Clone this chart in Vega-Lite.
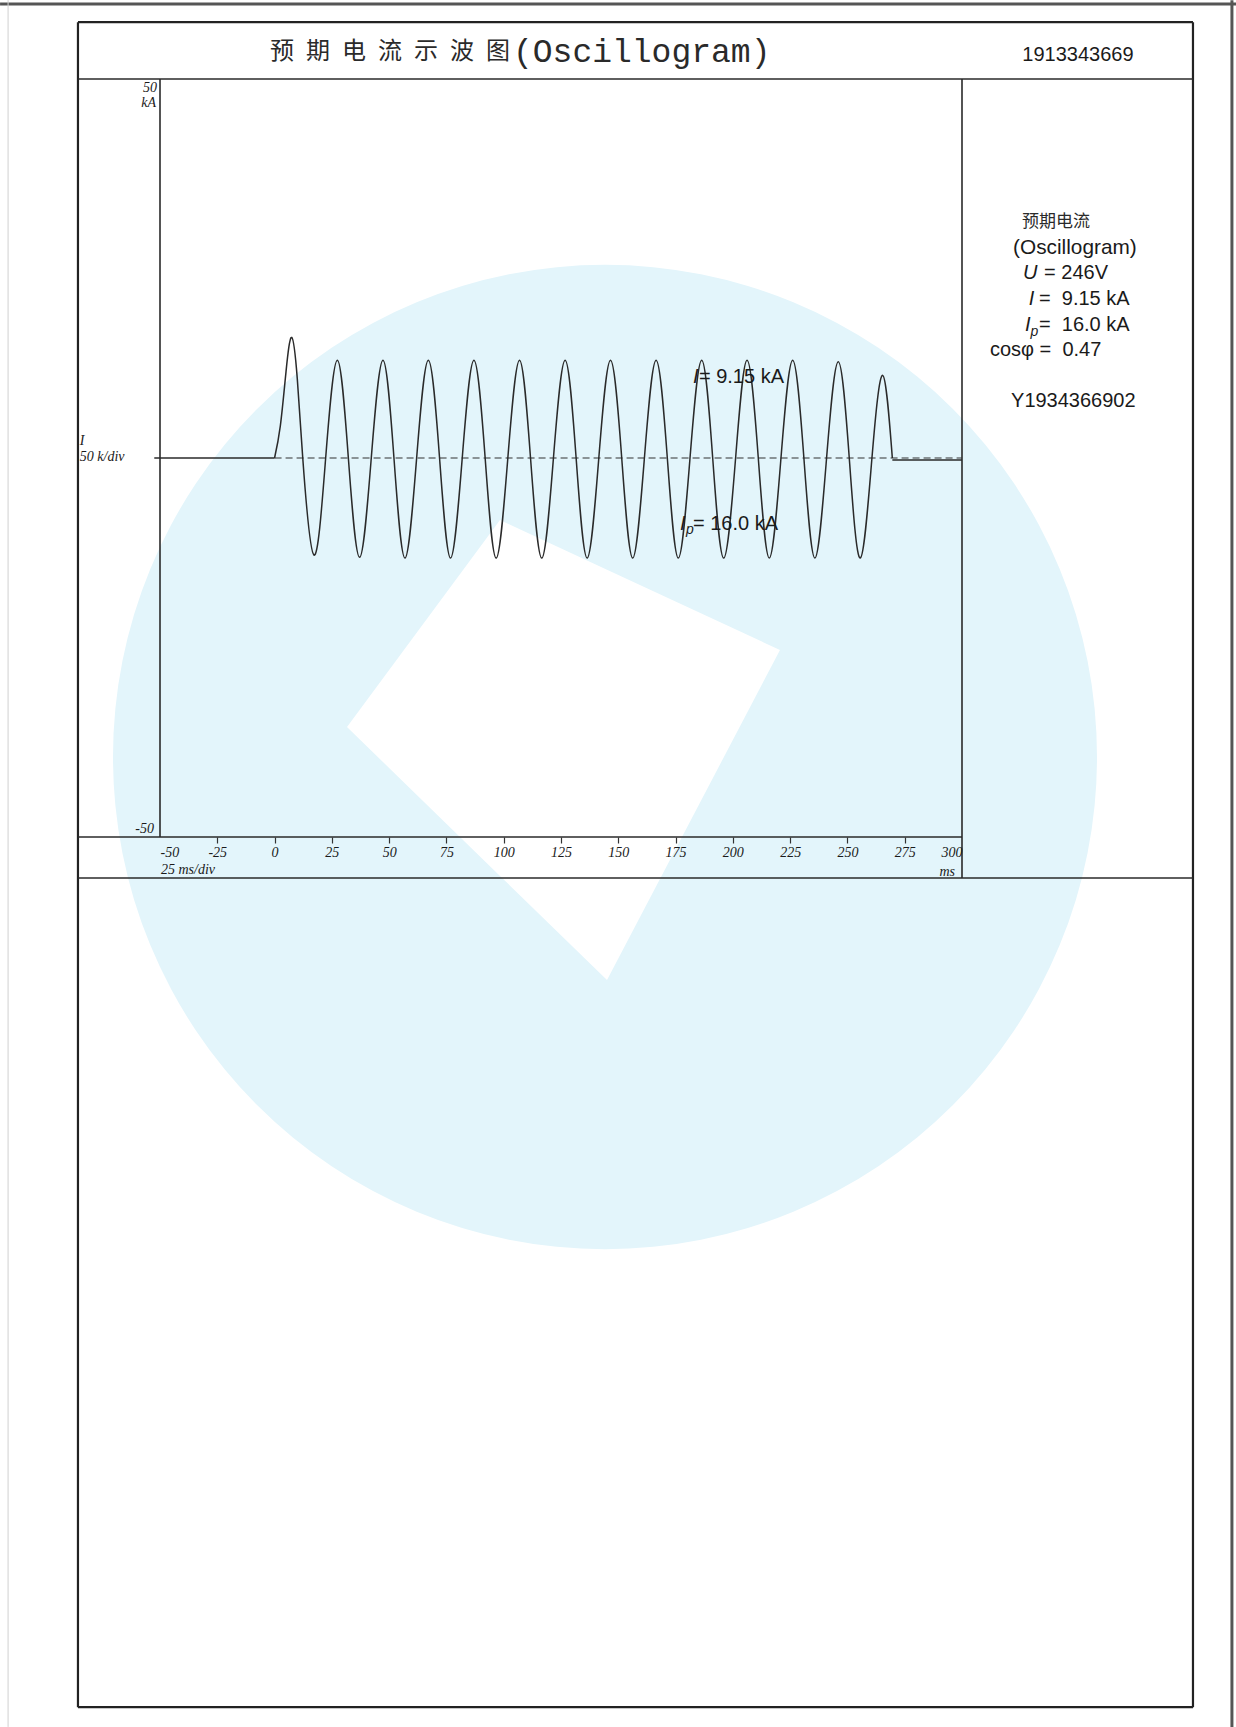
{
  "$schema": "https://vega.github.io/schema/vega-lite/v6.json",
  "width": 802,
  "height": 758,
  "autosize": {"type": "none"},
  "padding": {"left": 160, "top": 79, "right": 274, "bottom": 890},
  "background": "white",
  "config": {"view": {"stroke": null}},
  "encoding": {
    "x": {
      "field": "t", "type": "quantitative",
      "scale": {"domain": [-50, 300], "nice": false, "zero": false},
      "axis": {
        "values": [-50, -25, 0, 25, 50, 75, 100, 125, 150, 175, 200, 225, 250, 275, 300],
        "labelExpr": "datum.value + ''",
        "labelFlush": true, "labelOverlap": false, "zindex": 2,
        "domain": false, "grid": false, "ticks": true, "tickSize": 6, "tickWidth": 1.2,
        "tickColor": {"condition": {"test": "datum.value == -50 || datum.value == 300", "value": "transparent"}, "value": "#333"},
        "labelFont": "Liberation Serif", "labelFontStyle": "italic", "labelFontSize": 14,
        "labelColor": "#1a1a1a", "labelPadding": 2, "title": null
      }
    },
    "y": {
      "field": "i", "type": "quantitative",
      "scale": {"domain": [-50, 50], "nice": false, "zero": false},
      "axis": null
    }
  },
  "layer": [
    {
      "data": {"values": [{"t": 144.2, "i": -39.45}]},
      "mark": {"type": "point", "shape": "circle", "filled": true, "size": 968256, "opacity": 1, "color": "#e3f5fb", "strokeWidth": 0}
    },
    {
      "data": {"values": [
        {"t": 31.61, "i": -35.49, "i2": -35.49},
        {"t": 98.38, "i": -8.18, "i2": -55.13},
        {"t": 145.08, "i": -14.74, "i2": -68.87},
        {"t": 220.57, "i": -25.33, "i2": -25.33}
      ]},
      "mark": {"type": "area", "color": "#ffffff", "opacity": 1, "interpolate": "linear"},
      "encoding": {"y2": {"field": "i2"}}
    },
    {
      "data": {"values": [
        {"t": -119.8, "t2": 419.6, "i": 59.9, "i2": 59.9},
        {"t": 417.8, "t2": 417.8, "i": 60.4, "i2": -167.4}
      ]},
      "mark": {"type": "rule", "color": "#555", "strokeWidth": 3},
      "encoding": {"x2": {"field": "t2"}, "y2": {"field": "i2"}}
    },
    {
      "data": {"values": [
        {"t": -116.3, "t2": -116.3, "i": 60.4, "i2": -167.4}
      ]},
      "mark": {"type": "rule", "color": "#d0d0d0", "strokeWidth": 1},
      "encoding": {"x2": {"field": "t2"}, "y2": {"field": "i2"}}
    },
    {
      "data": {"values": [
        {"t": -85.8, "t2": -85.8, "i": 57.5, "i2": -164.8},
        {"t": 400.8, "t2": 400.8, "i": 57.5, "i2": -164.8},
        {"t": -85.8, "t2": 400.8, "i": 57.5, "i2": 57.5},
        {"t": -85.8, "t2": 400.8, "i": -164.8, "i2": -164.8}
      ]},
      "mark": {"type": "rule", "color": "#222", "strokeWidth": 2.2},
      "encoding": {"x2": {"field": "t2"}, "y2": {"field": "i2"}}
    },
    {
      "data": {"values": [
        {"t": -85.8, "t2": 400.8, "i": 50, "i2": 50},
        {"t": 300, "t2": 300, "i": 50, "i2": -55.4},
        {"t": -85.8, "t2": 400.8, "i": -55.4, "i2": -55.4},
        {"t": -85.8, "t2": 300, "i": -50, "i2": -50},
        {"t": -50, "t2": -50, "i": 50, "i2": -50}
      ]},
      "mark": {"type": "rule", "color": "#2a2a2a", "strokeWidth": 1.6},
      "encoding": {"x2": {"field": "t2"}, "y2": {"field": "i2"}}
    },
    {
      "data": {"values": [{"t": 0, "t2": 300, "i": 0, "i2": 0}]},
      "mark": {"type": "rule", "color": "#333", "strokeWidth": 1.1, "strokeDash": [7, 4]},
      "encoding": {"x2": {"field": "t2"}, "y2": {"field": "i2"}}
    },
    {
      "data": {"values": [
        {"seg": "pre", "t": -52.5, "i": 0},
        {"seg": "pre", "t": 0, "i": 0},
        {"seg": "post", "t": 269.6, "i": -0.25},
        {"seg": "post", "t": 300, "i": -0.25}
      ]},
      "mark": {"type": "line", "color": "#2a2a2a", "strokeWidth": 1.5},
      "encoding": {"detail": {"field": "seg"}}
    },
    {
      "data": {"values": [
        {"t": 0, "i": 0}, {"t": 2.5, "i": 4.2}, {"t": 5.0, "i": 11.4}, {"t": 7.5, "i": 15.9},
        {"t": 9.9, "i": 10.5}, {"t": 12.3, "i": 0}, {"t": 17.2, "i": -12.8}, {"t": 22.3, "i": 0},
        {"t": 27.4, "i": 12.9}, {"t": 32.2, "i": 0}, {"t": 37.1, "i": -13.1}, {"t": 42.2, "i": 0},
        {"t": 47.3, "i": 12.9}, {"t": 52.1, "i": 0}, {"t": 56.9, "i": -13.2}, {"t": 62.0, "i": 0},
        {"t": 67.1, "i": 12.9}, {"t": 72.0, "i": 0}, {"t": 76.8, "i": -13.2}, {"t": 81.9, "i": 0},
        {"t": 87.0, "i": 12.9}, {"t": 91.9, "i": 0}, {"t": 96.7, "i": -13.2}, {"t": 101.8, "i": 0},
        {"t": 106.9, "i": 12.9}, {"t": 111.7, "i": 0}, {"t": 116.6, "i": -13.2}, {"t": 121.7, "i": 0},
        {"t": 126.8, "i": 12.9}, {"t": 131.6, "i": 0}, {"t": 136.4, "i": -13.2}, {"t": 141.5, "i": 0},
        {"t": 146.6, "i": 12.9}, {"t": 151.5, "i": 0}, {"t": 156.3, "i": -13.2}, {"t": 161.4, "i": 0},
        {"t": 166.5, "i": 12.9}, {"t": 171.4, "i": 0}, {"t": 176.2, "i": -13.2}, {"t": 181.3, "i": 0},
        {"t": 186.4, "i": 12.9}, {"t": 191.2, "i": 0}, {"t": 196.0, "i": -13.2}, {"t": 201.2, "i": 0},
        {"t": 206.2, "i": 12.9}, {"t": 211.1, "i": 0}, {"t": 215.9, "i": -13.2}, {"t": 221.0, "i": 0},
        {"t": 226.1, "i": 12.9}, {"t": 231.0, "i": 0}, {"t": 235.8, "i": -13.2}, {"t": 240.9, "i": 0},
        {"t": 246.0, "i": 12.7}, {"t": 250.8, "i": 0}, {"t": 255.6, "i": -13.2}, {"t": 260.7, "i": 0},
        {"t": 265.4, "i": 10.9}, {"t": 269.6, "i": 0}
      ]},
      "mark": {"type": "line", "color": "#2a2a2a", "strokeWidth": 1.5, "interpolate": "natural"}
    },
    {
      "data": {"values": [
        {"s": "=\u00a0246V", "t": 335.8, "i": 24.41},
        {"s": "=\u00a0\u00a09.15 kA", "t": 333.6, "i": 21.04},
        {"s": "=\u00a0\u00a016.0 kA", "t": 333.6, "i": 17.55},
        {"s": "cosφ =\u00a0\u00a00.47", "t": 312.2, "i": 14.25},
        {"s": "Y1934366902", "t": 321.4, "i": 7.52},
        {"s": "=\u00a09.15 kA", "t": 185.2, "i": 10.69},
        {"s": "=\u00a016.0 kA", "t": 182.6, "i": -8.71}
      ]},
      "mark": {"type": "text", "font": "Liberation Sans", "fontSize": 20, "align": "left", "baseline": "middle", "color": "#1a1a1a"},
      "encoding": {"text": {"field": "s"}}
    },
    {
      "data": {"values": [{"s": "(Oscillogram)", "t": 322.3, "i": 27.7}]},
      "mark": {"type": "text", "font": "Liberation Sans", "fontSize": 20.8, "align": "left", "baseline": "middle", "color": "#1a1a1a"},
      "encoding": {"text": {"field": "s"}}
    },
    {
      "data": {"values": [
        {"s": "U", "t": 326.6, "i": 24.41},
        {"s": "I", "t": 329.1, "i": 21.04},
        {"s": "I", "t": 327.5, "i": 17.55},
        {"s": "I", "t": 182.6, "i": 10.69},
        {"s": "I", "t": 176.9, "i": -8.71}
      ]},
      "mark": {"type": "text", "font": "Liberation Sans", "fontSize": 20, "fontStyle": "italic", "align": "left", "baseline": "middle", "color": "#1a1a1a"},
      "encoding": {"text": {"field": "s"}}
    },
    {
      "data": {"values": [
        {"s": "p", "t": 329.9, "i": 16.6},
        {"s": "p", "t": 179.55, "i": -9.5}
      ]},
      "mark": {"type": "text", "font": "Liberation Sans", "fontSize": 14, "fontStyle": "italic", "align": "left", "baseline": "middle", "color": "#1a1a1a"},
      "encoding": {"text": {"field": "s"}}
    },
    {
      "data": {"values": [{"s": "预期电流", "t": 326.2, "i": 31.13}]},
      "mark": {"type": "text", "font": "Noto Sans CJK SC", "fontSize": 17, "align": "left", "baseline": "middle", "color": "#2a2a2a"},
      "encoding": {"text": {"field": "s"}}
    },
    {
      "data": {"values": [{"s": "预\u2002期\u2002电\u2002流\u2002示\u2002波\u2002图", "t": 102.7, "i": 53.56}]},
      "mark": {"type": "text", "font": "Noto Sans CJK SC", "fontSize": 24, "align": "right", "baseline": "middle", "color": "#2a2a2a"},
      "encoding": {"text": {"field": "s"}}
    },
    {
      "data": {"values": [{"s": "(Oscillogram)", "t": 104.05, "i": 53.56}]},
      "mark": {"type": "text", "font": "Liberation Mono", "fontSize": 33, "align": "left", "baseline": "middle", "color": "#2a2a2a"},
      "encoding": {"text": {"field": "s"}}
    },
    {
      "data": {"values": [{"s": "1913343669", "t": 350.6, "i": 53.17}]},
      "mark": {"type": "text", "font": "Liberation Sans", "fontSize": 20, "align": "center", "baseline": "middle", "color": "#1a1a1a"},
      "encoding": {"text": {"field": "s"}}
    },
    {
      "data": {"values": [
        {"s": "50", "t": -51.3, "i": 48.8},
        {"s": "kA", "t": -51.75, "i": 46.83},
        {"s": "-50", "t": -52.6, "i": -48.94},
        {"s": "ms", "t": 296.95, "i": -54.62}
      ]},
      "mark": {"type": "text", "font": "Liberation Serif", "fontSize": 14, "fontStyle": "italic", "align": "right", "baseline": "middle", "color": "#1a1a1a"},
      "encoding": {"text": {"field": "s"}}
    },
    {
      "data": {"values": [
        {"s": "I", "t": -85.0, "i": 2.24},
        {"s": "50 k/div", "t": -85.0, "i": 0.13},
        {"s": "25 ms/div", "t": -49.56, "i": -54.35}
      ]},
      "mark": {"type": "text", "font": "Liberation Serif", "fontSize": 14, "fontStyle": "italic", "align": "left", "baseline": "middle", "color": "#1a1a1a"},
      "encoding": {"text": {"field": "s"}}
    }
  ]
}
